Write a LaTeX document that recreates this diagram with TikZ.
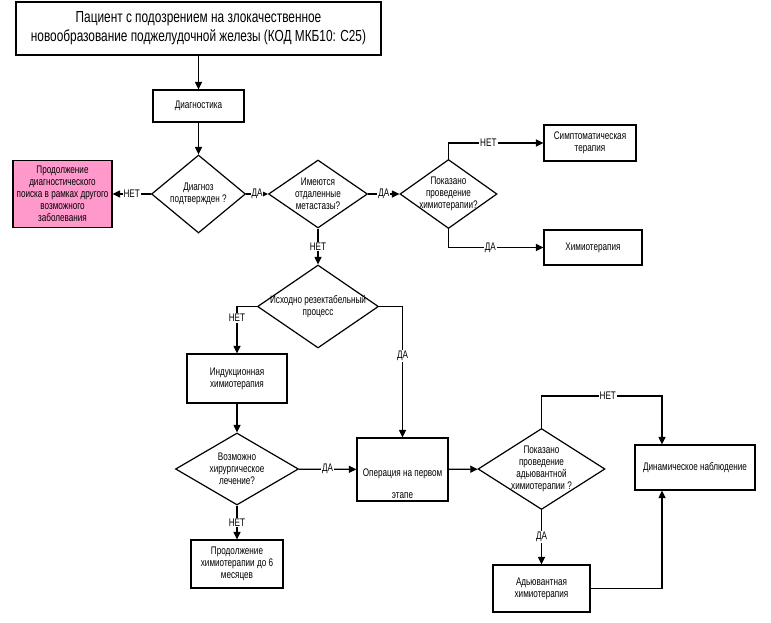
\documentclass[tikz,border=0pt]{standalone}
\usepackage{fontspec}
\setmainfont{Liberation Sans}[FakeStretch=0.74]
\usepackage{tikz}
\definecolor{mypink}{RGB}{255,153,204}
\usetikzlibrary{shapes.geometric,arrows.meta,calc}

\begin{document}
\begin{tikzpicture}[x=1pt,y=-1pt,
    line width=1.2pt,
    every node/.style={font=\fontsize{11}{12}\selectfont,align=center},
    boxnode/.style={draw,rectangle,inner sep=1pt},
    decnode/.style={draw,diamond,aspect=1.4,inner sep=-4pt},
    lblnode/.style={fill=white,inner sep=1pt},
    arr/.style={-{Triangle[length=7.5pt,width=7pt]}}
    ]
    \useasboundingbox (0,0) rectangle (771,623);

    \node (top) [boxnode,minimum width=365pt,minimum height=53pt,font=\fontsize{16}{19}\selectfont] at (198.5,28.5) {Пациент с подозрением на злокачественное\\новообразование поджелудочной железы (КОД МКБ10: С25)};
    \node (diag) [boxnode,minimum width=91pt,minimum height=32pt] at (198.5,106) {Диагностика};
    \node (d1) [decnode,minimum width=94pt,minimum height=78pt] at (198.5,194) {Диагноз\\подтвержден ?};
    \node (pink) [boxnode,fill=mypink,minimum width=99pt,minimum height=67pt] at (62.5,194) {Продолжение\\диагностического\\поиска в рамках другого\\возможного\\заболевания};
    \node (d2) [decnode,minimum width=99pt,minimum height=68pt] at (318,194) {Имеются\\отдаленные\\метастазы?};
    \node (d3) [decnode,minimum width=97pt,minimum height=69pt] at (448.5,194) {Показано\\проведение\\химиотерапии?};
    \node (symp) [boxnode,minimum width=92pt,minimum height=36pt] at (590,143) {Симптоматическая\\терапия};
    \node (chemo) [boxnode,minimum width=98pt,minimum height=35pt] at (593,247.5) {Химиотерапия};
    \node (d4) [decnode,minimum width=121pt,minimum height=83pt] at (318,306.5) {Исходно резектабельный\\процесс};
    \node (ind) [boxnode,minimum width=100pt,minimum height=49pt] at (237,378.5) {Индукционная\\химиотерапия};
    \node (d5) [decnode,minimum width=123pt,minimum height=72pt] at (237,469) {Возможно\\хирургическое\\лечение?};
    \node (op) [boxnode,minimum width=91pt,minimum height=63pt] at (402.5,469.5) {};
    \node (optext) at ([yshift=-14pt]op.center) {Операция на первом\\[10pt]этапе};
    \node (prod) [boxnode,minimum width=92pt,minimum height=48pt] at (237,564) {Продолжение\\химиотерапии до 6\\месяцев};
    \node (d6) [decnode,minimum width=127pt,minimum height=81pt] at (541.5,469) {Показано\\проведение\\адьювантной\\химиотерапии ?};
    \node (dyn) [boxnode,minimum width=120pt,minimum height=45pt] at (695,467.5) {Динамическое наблюдение};
    \node (adj) [boxnode,minimum width=97pt,minimum height=47pt] at (541.5,588.5) {Адьювантная\\химиотерапия};

    % the edges
    \draw[arr] (top) -- (diag);
    \draw[arr] (diag) -- (d1);
    \draw[arr] (d1) -- node[lblnode]{НЕТ} (pink);
    \draw[arr] (d1) -- node[lblnode]{ДА} (d2);
    \draw[arr] (d2) -- node[lblnode]{ДА} (d3);
    \draw[arr] (d3.north) |- node[lblnode,pos=0.71]{НЕТ} (symp.west);
    \draw[arr] (d3.south) |- node[lblnode,pos=0.72]{ДА} (chemo.west);
    \draw[arr] (d2) -- node[lblnode]{НЕТ} (d4);
    \draw[arr] (d4.west) -| node[lblnode,pos=0.62]{НЕТ} (ind.north);
    \draw[arr] (d4.east) -| node[lblnode,pos=0.69]{ДА} (op.north);
    \draw[arr] (ind) -- (d5);
    \draw[arr] (d5) -- node[lblnode]{ДА} (op);
    \draw[arr] (d5) -- node[lblnode]{НЕТ} (prod);
    \draw[arr] (op) -- (d6);
    \draw[arr] (d6.north) -- ++(0,-32) -| node[lblnode,pos=0.275]{НЕТ} ([xshift=-33pt]dyn.north);
    \draw[arr] (d6) -- node[lblnode]{ДА} (adj);
    \draw[arr] (adj.east) -| ([xshift=-33pt]dyn.south);
\end{tikzpicture}
\end{document}
